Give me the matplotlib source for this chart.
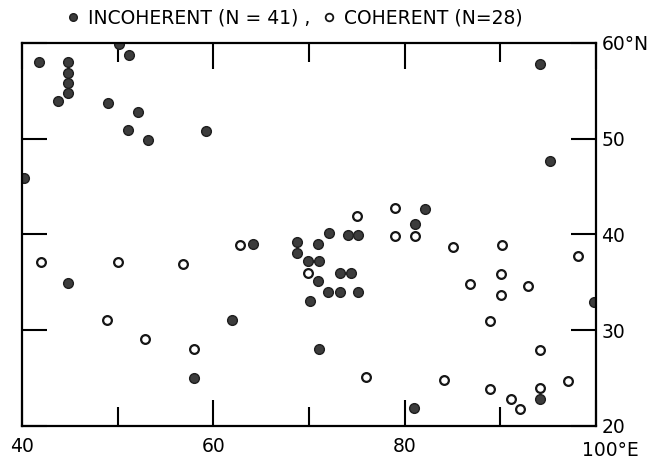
import matplotlib
matplotlib.use("Agg")
import matplotlib.pyplot as plt
from matplotlib.lines import Line2D

# incoherent events (filled circles), lon / lat in degrees
incoh_lon = [41.8, 44.85, 44.85, 44.85, 44.85, 43.8, 50.1, 51.2, 49.0, 52.1,
             51.1, 53.2, 59.2, 40.25, 44.85, 58.0, 62.0, 64.1, 68.8, 68.8,
             70.9, 72.1, 74.1, 75.1, 82.1, 81.1, 69.9, 71.0, 70.9, 73.2,
             74.35, 72.0, 73.2, 75.1, 70.1, 71.1, 94.1, 99.75, 81.0, 94.2,
             95.15]
incoh_lat = [58.0, 58.05, 56.9, 55.85, 54.8, 53.9, 59.85, 58.75, 53.7, 52.75,
             50.9, 49.9, 50.8, 45.9, 34.9, 25.05, 31.1, 38.95, 39.2, 38.1,
             39.0, 40.1, 39.95, 39.95, 42.7, 41.1, 37.2, 37.2, 35.1, 35.95,
             35.95, 34.0, 34.0, 34.0, 33.0, 28.0, 22.8, 32.9, 21.9, 57.8,
             47.7]

# coherent events (open circles)
coh_lon = [42.0, 50.0, 56.8, 48.9, 52.9, 58.0, 62.75, 75.05, 78.95, 79.0,
           81.05, 69.9, 85.1, 90.2, 98.1, 90.05, 86.85, 92.9, 90.05, 88.9,
           94.1, 84.1, 88.9, 94.1, 97.1, 91.1, 92.07, 76.0]
coh_lat = [37.1, 37.1, 36.9, 31.07, 29.05, 28.0, 38.9, 41.9, 42.8, 39.85,
           39.8, 36.0, 38.65, 38.9, 37.8, 35.9, 34.8, 34.65, 33.65, 30.97,
           27.9, 24.8, 23.9, 24.0, 24.7, 22.8, 21.74, 25.15]

fig = plt.figure(figsize=(6.56, 4.59), dpi=100)
ax = fig.add_axes([0.0335, 0.072, 0.875, 0.8345])

ax.plot(incoh_lon, incoh_lat, 'o', ms=7.0, mfc='#3c3c3c', mec='#1e1e1e', mew=1.0)
ax.plot(coh_lon, coh_lat, 'o', ms=6.3, mfc='white', mec='#151515', mew=1.6)

ax.set_xlim(40, 100)
ax.set_ylim(20, 60)

for s in ax.spines.values():
    s.set_linewidth(1.6)

ax.set_xticks([40, 60, 80, 100])
ax.set_xticklabels(['40', '60', '80', ''])
ax.set_xticks([50, 70, 90], minor=True)
ax.tick_params(axis='x', which='major', direction='in', length=19, width=1.5,
               top=True, bottom=True, labelsize=13.5, pad=8)
ax.tick_params(axis='x', which='minor', direction='in', length=14, width=1.5,
               top=True, bottom=True)
ax.annotate('100°E', xy=(100, 0), xycoords=('data', 'axes fraction'),
            xytext=(-10, -11), textcoords='offset points',
            ha='left', va='top', fontsize=13.5)

ax.set_yticks([20, 30, 40, 50, 60])
ax.set_yticklabels(['20', '30', '40', '50', '60°N'])
ax.tick_params(axis='y', direction='in', length=18, width=1.5,
               left=True, right=True, labelleft=False, labelright=True,
               labelsize=13.5, pad=4)

handles = [Line2D([], [], ls='none', marker='o', ms=5.5, mfc='#3c3c3c', mec='#1e1e1e'),
           Line2D([], [], ls='none', marker='o', ms=5.5, mfc='white', mec='#151515', mew=1.3)]
ax.legend(handles, ['INCOHERENT (N = 41) ,', 'COHERENT (N=28)'], ncol=2,
          loc='lower left', bbox_to_anchor=(0.076, 1.04), frameon=False,
          fontsize=13.5, handlelength=0.8, handletextpad=0.4, columnspacing=0.6,
          borderpad=0, borderaxespad=0)

fig.savefig('out.png', dpi=100)
